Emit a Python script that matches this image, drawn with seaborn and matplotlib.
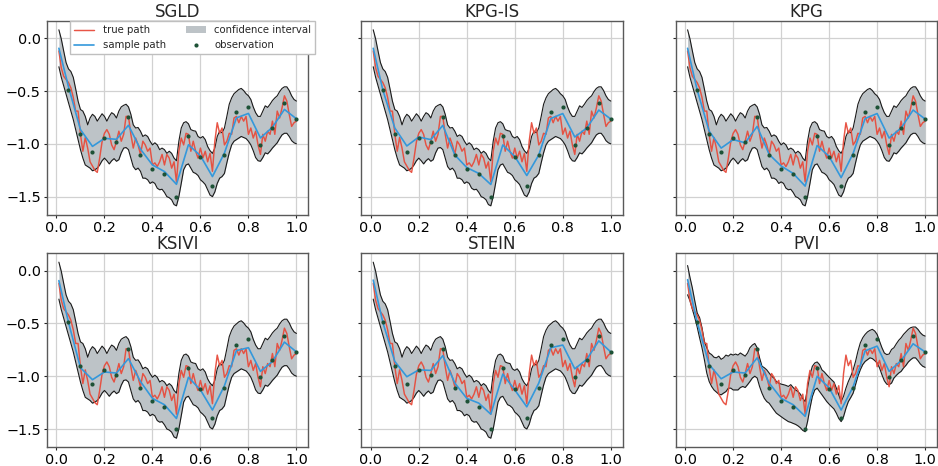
import numpy as np
import pandas as pd
import matplotlib
matplotlib.use("Agg")
import matplotlib.pyplot as plt
import seaborn as sns

# ---------------- data ----------------
methods = ["SGLD", "KPG-IS", "KPG", "KSIVI", "STEIN", "PVI"]

t_fine = [round(0.01 * i, 2) for i in range(1, 101)]
t_obs = [round(0.05 * i, 2) for i in range(1, 21)]
t_sample = [0.01] + t_obs

true_path = [
    -0.12, -0.28, -0.36, -0.39, -0.42, -0.47, -0.56, -0.69, -0.69, -0.91,
    -1.07, -0.94, -1.04, -1.17, -1.21, -1.25, -1.27, -1.135, -0.98, -0.90,
    -0.865, -0.91, -1.01, -1.055, -0.975, -0.88, -0.975, -0.91, -0.74, -0.74,
    -0.91, -1.04, -0.945, -1.01, -1.10, -0.975, -1.01, -1.07, -1.04, -1.20,
    -1.18, -1.215, -1.17, -1.10, -1.20, -1.10, -1.135, -1.23, -1.17, -1.36,
    -1.07, -0.945, -1.01, -0.90, -0.91, -1.07, -0.975, -1.07, -1.135, -1.04,
    -1.135, -1.07, -1.17, -1.09, -1.26, -0.975, -0.80, -0.90, -0.85, -1.01,
    -0.975, -0.90, -0.91, -0.755, -0.74, -0.80, -0.74, -0.785, -0.74, -0.91,
    -0.85, -0.945, -0.88, -1.01, -1.10, -0.91, -0.975, -0.88, -0.91, -0.785,
    -0.91, -0.69, -0.755, -0.66, -0.545, -0.595, -0.72, -0.835, -0.80, -0.785,
]

observations = [
    -0.49, -0.906, -1.075, -0.94, -0.985, -0.745, -1.11, -1.234, -1.288, -1.504,
    -0.922, -1.12, -1.396, -1.107, -0.703, -0.652, -1.011, -0.849, -0.617, -0.766,
]

sample_paths = {
    "SGLD":   [-0.095, -0.46, -0.865, -1.024, -0.948, -0.957, -0.824, -1.05, -1.20, -1.262, -1.383,
               -1.008, -1.113, -1.31, -1.087, -0.754, -0.712, -0.944, -0.843, -0.674, -0.763],
    "KPG-IS": [-0.095, -0.49, -0.85, -1.02, -0.935, -0.96, -0.825, -1.105, -1.225, -1.28, -1.385,
               -1.01, -1.12, -1.30, -1.105, -0.76, -0.713, -0.935, -0.85, -0.68, -0.765],
    "KPG":    [-0.095, -0.49, -0.88, -1.04, -0.96, -0.99, -0.835, -1.10, -1.21, -1.28, -1.40,
               -1.015, -1.12, -1.32, -1.09, -0.76, -0.713, -0.945, -0.85, -0.68, -0.765],
    "KSIVI":  [-0.095, -0.49, -0.92, -1.033, -0.96, -0.97, -0.833, -1.05, -1.21, -1.27, -1.40,
               -1.01, -1.13, -1.32, -1.09, -0.757, -0.73, -0.954, -0.86, -0.677, -0.77],
    "STEIN":  [-0.09, -0.49, -0.86, -1.005, -0.94, -0.945, -0.805, -1.065, -1.21, -1.255, -1.36,
               -0.98, -1.13, -1.29, -1.065, -0.73, -0.705, -0.93, -0.84, -0.665, -0.77],
    "PVI":    [-0.086, -0.49, -0.89, -1.024, -0.96, -0.97, -0.826, -1.064, -1.21, -1.27, -1.38,
               -1.0, -1.11, -1.32, -1.10, -0.76, -0.715, -0.954, -0.852, -0.693, -0.77],
}

band_upper_wide = [
    0.08, -0.006, -0.12, -0.23, -0.29, -0.315, -0.37, -0.48, -0.595, -0.675,
    -0.69, -0.74, -0.82, -0.755, -0.72, -0.74, -0.785, -0.75, -0.715, -0.74,
    -0.785, -0.74, -0.705, -0.72, -0.755, -0.69, -0.65, -0.635, -0.625, -0.65,
    -0.72, -0.82, -0.85, -0.845, -0.88, -0.93, -0.915, -0.93, -0.975, -1.01,
    -0.99, -1.01, -1.055, -1.04, -1.055, -1.09, -1.07, -1.09, -1.135, -1.16,
    -0.975, -0.85, -0.80, -0.79, -0.81, -0.865, -0.875, -0.88, -0.93, -0.945,
    -0.93, -0.96, -1.025, -1.065, -1.09, -1.04, -0.93, -0.88, -0.895, -0.85,
    -0.74, -0.625, -0.565, -0.525, -0.505, -0.485, -0.475, -0.495, -0.525, -0.545,
    -0.58, -0.65, -0.705, -0.74, -0.74, -0.69, -0.64, -0.655, -0.625, -0.59,
    -0.565, -0.545, -0.505, -0.475, -0.46, -0.46, -0.495, -0.545, -0.58, -0.595,
]
band_lower_wide = [
    -0.27, -0.37, -0.45, -0.53, -0.61, -0.69, -0.77, -0.865, -0.96, -1.055,
    -1.135, -1.20, -1.215, -1.23, -1.255, -1.245, -1.23, -1.20, -1.16, -1.135,
    -1.16, -1.19, -1.16, -1.14, -1.165, -1.15, -1.085, -1.04, -1.035, -1.055,
    -1.135, -1.215, -1.245, -1.23, -1.26, -1.325, -1.325, -1.34, -1.375, -1.36,
    -1.375, -1.42, -1.435, -1.43, -1.46, -1.50, -1.51, -1.53, -1.575, -1.587,
    -1.50, -1.375, -1.245, -1.20, -1.19, -1.23, -1.27, -1.28, -1.30, -1.34,
    -1.36, -1.385, -1.435, -1.485, -1.50, -1.455, -1.375, -1.325, -1.31, -1.28,
    -1.18, -1.085, -1.01, -0.975, -0.96, -0.945, -0.93, -0.94, -0.95, -0.975,
    -1.01, -1.065, -1.13, -1.16, -1.165, -1.13, -1.085, -1.095, -1.07, -1.04,
    -1.015, -0.99, -0.95, -0.915, -0.90, -0.90, -0.93, -0.97, -0.99, -1.0,
]
band_upper_pvi = [
    0.048, -0.064, -0.165, -0.286, -0.40, -0.445, -0.54, -0.67, -0.73, -0.78,
    -0.795, -0.82, -0.826, -0.81, -0.84, -0.826, -0.80, -0.81, -0.79, -0.80,
    -0.79, -0.80, -0.78, -0.795, -0.81, -0.78, -0.73, -0.705, -0.69, -0.73,
    -0.826, -0.905, -0.92, -0.94, -0.97, -1.0, -1.017, -1.05, -1.065, -1.075,
    -1.08, -1.087, -1.097, -1.08, -1.107, -1.13, -1.145, -1.17, -1.21, -1.24,
    -1.113, -0.986, -0.906, -0.875, -0.865, -0.89, -0.94, -0.96, -0.986, -1.01,
    -1.033, -1.055, -1.113, -1.176, -1.24, -1.19, -1.113, -1.05, -1.0, -0.94,
    -0.86, -0.763, -0.684, -0.636, -0.604, -0.58, -0.566, -0.556, -0.572, -0.604,
    -0.668, -0.73, -0.78, -0.795, -0.79, -0.747, -0.73, -0.693, -0.66, -0.636,
    -0.604, -0.58, -0.556, -0.54, -0.534, -0.534, -0.556, -0.588, -0.61, -0.62,
]
band_lower_pvi = [
    -0.229, -0.286, -0.366, -0.445, -0.534, -0.636, -0.73, -0.843, -0.97, -1.05,
    -1.097, -1.13, -1.15, -1.17, -1.176, -1.16, -1.145, -1.113, -1.113, -1.13,
    -1.13, -1.13, -1.107, -1.097, -1.107, -1.08, -1.05, -1.017, -1.0, -1.017,
    -1.097, -1.16, -1.21, -1.24, -1.256, -1.288, -1.32, -1.35, -1.367, -1.383,
    -1.40, -1.415, -1.43, -1.437, -1.447, -1.456, -1.47, -1.488, -1.513, -1.526,
    -1.43, -1.304, -1.192, -1.13, -1.113, -1.145, -1.176, -1.208, -1.24, -1.265,
    -1.288, -1.31, -1.35, -1.40, -1.43, -1.383, -1.304, -1.24, -1.202, -1.16,
    -1.08, -1.0, -0.938, -0.89, -0.86, -0.843, -0.826, -0.833, -0.852, -0.874,
    -0.922, -0.986, -1.043, -1.075, -1.08, -1.065, -1.017, -0.992, -0.97, -0.954,
    -0.922, -0.897, -0.865, -0.843, -0.826, -0.826, -0.852, -0.884, -0.906, -0.916,
]

bands = {m: (band_upper_wide, band_lower_wide) for m in methods[:5]}
bands["PVI"] = (band_upper_pvi, band_lower_pvi)

# ---------------- style ----------------
sns.set_theme(style="whitegrid", rc={
    "axes.edgecolor": "0.35",
    "axes.linewidth": 1.0,
    "grid.color": "0.82",
    "grid.linewidth": 0.9,
    "xtick.bottom": True,
    "ytick.left": True,
    "xtick.major.size": 2.5,
    "ytick.major.size": 2.5,
    "xtick.major.pad": 2.0,
    "ytick.major.pad": 2.0,
    "xtick.major.width": 0.8,
    "ytick.major.width": 0.8,
    "xtick.color": "0.15",
    "ytick.color": "0.15",
    "xtick.labelcolor": "black",
    "ytick.labelcolor": "black",
    "xtick.labelsize": 10.4,
    "ytick.labelsize": 10.4,
})
plt.rcParams["font.family"] = ["DejaVu Sans"]

RED = "#e74c3c"
BLUE = "#3498db"
GREY = "#bdc3c7"
GREEN = "#1d5236"

fig, axes = plt.subplots(2, 3, figsize=(9.38, 4.66), dpi=100, sharey=True)
fig.subplots_adjust(left=47 / 938, right=937 / 938, top=1 - 21 / 466,
                    bottom=1 - 447 / 466, wspace=0.203, hspace=0.20)

df_true = pd.DataFrame({"t": t_fine, "y": true_path})
df_obs = pd.DataFrame({"t": t_obs, "y": observations})

for ax, m in zip(axes.flat, methods):
    up, lo = bands[m]
    ax.fill_between(t_fine, lo, up, color=GREY, linewidth=0, zorder=1,
                    label="confidence interval")
    ax.plot(t_fine, up, color="0.1", lw=0.8, zorder=2)
    ax.plot(t_fine, lo, color="0.1", lw=0.8, zorder=2)
    sns.lineplot(data=df_true, x="t", y="y", ax=ax, color=RED, lw=1.05,
                 alpha=0.95, label="true path", zorder=3)
    df_s = pd.DataFrame({"t": t_sample, "y": sample_paths[m]})
    sns.lineplot(data=df_s, x="t", y="y", ax=ax, color=BLUE, lw=1.2,
                 label="sample path", zorder=4)
    sns.scatterplot(data=df_obs, x="t", y="y", ax=ax, color=GREEN, s=9,
                    linewidth=0, label="observation", zorder=5)
    ax.set_title(m, fontsize=12, pad=2)
    ax.set_xlabel("")
    ax.set_ylabel("")
    ax.set_xticks([0.0, 0.2, 0.4, 0.6, 0.8, 1.0])
    ax.set_yticks([0.0, -0.5, -1.0, -1.5])
    ax.tick_params(axis="y", labelleft=(m in ("SGLD", "KSIVI")))
    leg = ax.get_legend()
    if leg is not None:
        leg.remove()

ax0 = axes[0, 0]
h, l = ax0.get_legend_handles_labels()
order = ["true path", "sample path", "confidence interval", "observation"]
hd = dict(zip(l, h))
ax0.legend([hd[k] for k in order], order, ncol=2, fontsize=7.3,
           loc="upper right", bbox_to_anchor=(1.027, 1.0), borderaxespad=0,
           fancybox=False, framealpha=1, edgecolor="0.75")

fig.savefig("out.png", dpi=100)
